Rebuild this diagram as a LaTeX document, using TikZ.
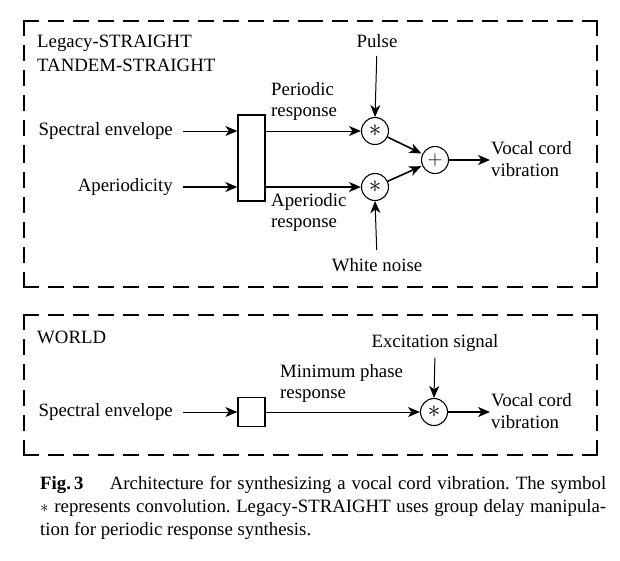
\documentclass[tikz,border=0pt]{standalone}
\usepackage{fontspec}
\setmainfont{Liberation Serif}
\usetikzlibrary{arrows.meta}
\frenchspacing
\newcommand\myframe[4]{%
 \draw[frame] (#1,#2) -- ({(#1+#3)/2},#2);
 \draw[frame] (#3,#2) -- ({(#1+#3)/2},#2);
 \draw[frame] (#1,#4) -- ({(#1+#3)/2},#4);
 \draw[frame] (#3,#4) -- ({(#1+#3)/2},#4);
 \draw[frame] (#1,#2) -- (#1,{(#2+#4)/2});
 \draw[frame] (#1,#4) -- (#1,{(#2+#4)/2});
 \draw[frame] (#3,#2) -- (#3,{(#2+#4)/2});
 \draw[frame] (#3,#4) -- (#3,{(#2+#4)/2});}
\newcommand\bigast{{\fontsize{34}{34}\selectfont$\ast$}}
\begin{document}
\begin{tikzpicture}[x=1pt,y=-1pt,
  every node/.style={font=\fontsize{18.8}{21.5}\selectfont, inner sep=0pt},
  lbl/.style={align=left},
  conv/.style={draw, circle, minimum size=27pt, line width=1.1pt},
  blk/.style={draw, line width=1.3pt},
  arr/.style={-{Stealth[length=12pt,width=10pt,inset=3.5pt]}, line width=1pt},
  tarr/.style={arr, line width=1.6pt},
  frame/.style={line width=1.4pt, line cap=rect, dash pattern=on 14pt off 11pt}]
\useasboundingbox (0,0) rectangle (620,560);

% ---------- top frame ----------
\myframe{24}{21}{597}{287}
\node[anchor=west] (leg) at (37,43) {Legacy-STRAIGHT};
\node[anchor=west] (tan) at (37,65) {TANDEM-STRAIGHT};

\node[anchor=east] (se1) at (173,131) {Spectral envelope};
\node[anchor=east] (ap) at (173,187) {Aperiodicity};
\coordinate (se1s) at (183,131);
\coordinate (aps) at (183,187);
\node[blk, minimum width=27pt, minimum height=86pt] (box1) at (251.5,158) {};

\node[conv] (m1) at (375,131) {\bigast};
\node[conv] (m2) at (375,187) {\bigast};
\node[conv] (pl) at (435,160) {\fontsize{22}{22}\selectfont$+$};

\node (pulse) at (377,41) {Pulse};
\node (wn) at (377,265) {White noise};
\node[lbl, anchor=south west] (pr) at (271,121) {Periodic\\response};
\node[lbl, anchor=north west] (ar) at (271,193) {Aperiodic\\response};
\node[lbl, anchor=west] (vc1) at (491,159) {Vocal cord\\vibration};

\draw[arr] (se1s) -- (se1s -| box1.west);
\draw[tarr] (aps) -- (aps -| box1.west);
\draw[arr] (box1.east |- m1) -- (m1);
\draw[tarr] (box1.east |- m2) -- (m2);
\draw[arr, shorten <=8pt] (pulse.south) -- (m1.north);
\draw[arr, shorten <=8pt] (wn.north) -- (m2.south);
\draw[tarr, shorten >=1pt] (m1) -- (pl);
\draw[tarr, shorten >=1pt] (m2) -- (pl);
\draw[tarr, shorten >=1pt] (pl) -- (pl -| vc1.west);

% ---------- bottom frame ----------
\myframe{24}{315}{597}{455}
\node[anchor=west] (world) at (37,337) {WORLD};
\node[anchor=east] (se2) at (173,412) {Spectral envelope};
\coordinate (se2s) at (183,412);
\node[blk, minimum width=27pt, minimum height=29pt] (box2) at (251.5,412) {};
\node[conv] (m3) at (434,412) {\bigast};
\node (ex) at (435,343) {Excitation signal};
\node[lbl, anchor=south west] (mp) at (280,403) {Minimum phase\\response};
\node[lbl, anchor=west] (vc2) at (491,411) {Vocal cord\\vibration};

\draw[arr] (se2s) -- (box2.west);
\draw[arr] (box2.east) -- (m3);
\draw[arr, shorten <=6pt] (ex.south) -- (m3.north);
\draw[tarr, shorten >=1pt] (m3) -- (m3 -| vc2.west);

% ---------- caption ----------
\node[anchor=base west] (cap1) at (40,489) {\makebox[566pt][s]{\textbf{Fig.\,3}\hspace{1.4em}Architecture for synthesizing a vocal cord vibration. The symbol}};
\node[anchor=base west] (cap2) at (40,512) {\makebox[566pt][s]{$\ast$ represents convolution. Legacy-STRAIGHT uses group delay manipula-}};
\node[anchor=base west] (cap3) at (40,535) {tion for periodic response synthesis.};
\end{tikzpicture}
\end{document}
